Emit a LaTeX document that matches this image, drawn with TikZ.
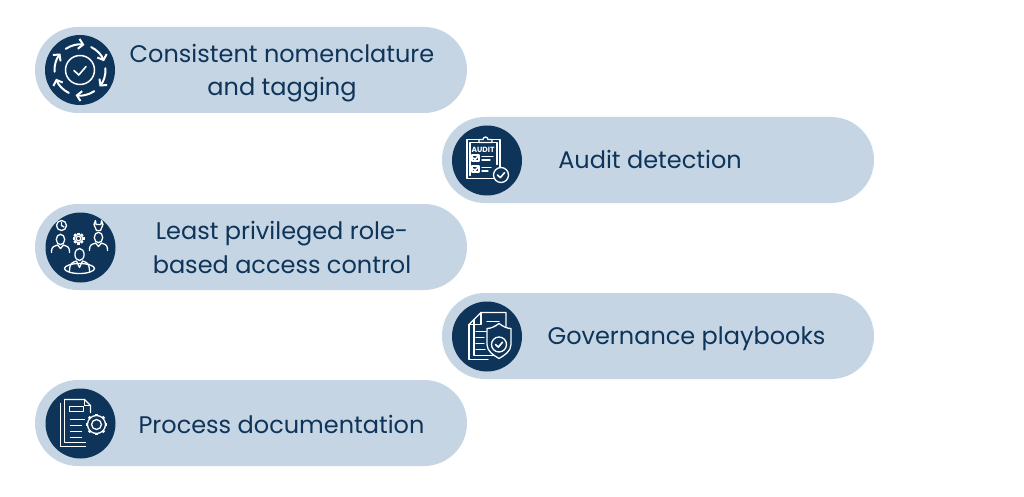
\documentclass[tikz,border=0pt]{standalone}
\usepackage{fontspec}
\setmainfont{Poppins}
\usetikzlibrary{arrows.meta,shapes.misc}
\definecolor{pillblue}{HTML}{C5D5E3}
\definecolor{navy}{HTML}{0E3459}
\tikzset{
    pill/.style={rounded rectangle,fill=pillblue,minimum width=432,minimum height=86,inner sep=0},
    badge/.style={circle,fill=navy,minimum size=70,inner sep=0},
    label/.style={text=navy,font=\fontsize{24}{33.5}\selectfont,align=center,inner sep=0},
    iconline/.style={draw=white,line width=1.3,line join=round,line cap=round},
    gearicon/.pic={
        \foreach \t in {0,45,...,315}
            \draw[white,line width=2.6] (\t:#1) -- (\t:#1+1.8);
        \draw[iconline,fill=navy] (0,0) circle (#1);
        \draw[iconline] (0,0) circle (#1*0.55);
    },
    checkmark/.pic={
        \draw[iconline,line width=1.6] (-#1,0) -- (-#1*0.2,-#1*0.75) -- (#1,#1*0.65);
    },
}
\begin{document}
\begin{tikzpicture}[x=1pt,y=1pt]
    \useasboundingbox (0,0) rectangle (1024,-497);
    \fill[white] (0,0) rectangle (1024,-497);
    % pills
    \node[pill] (nomenclature) at (251,-70) {};
    \node[pill] (audit) at (658,-160) {};
    \node[pill] (privilege) at (251,-247) {};
    \node[pill] (governance) at (658,-336) {};
    \node[pill] (process) at (251,-423) {};
    % labels
    \node[label] (nomenclaturetext) at (282,-73) {Consistent nomenclature\\and tagging};
    \node[label] (audittext) at (650,-159.5) {Audit detection};
    \node[label] (privilegetext) at (282,-247.5) {Least privileged role-\\based access control};
    \node[label] (governancetext) at (686.5,-338.5) {Governance playbooks};
    \node[label] (processtext) at (281.5,-424.5) {Process documentation};
    % badges
    \node[badge] (cyclebadge) at (80,-70) {};
    \node[badge] (auditbadge) at (487,-160.5) {};
    \node[badge] (teambadge) at (80.5,-247.5) {};
    \node[badge] (shieldbadge) at (487,-336.5) {};
    \node[badge] (gearbadge) at (80.5,-423.5) {};
    % cycle icon
    \begin{scope}[shift={(cyclebadge.center)}]
        \draw[iconline,line width=1.5] (0,0) circle (14.5);
        \pic at (0,-0.5) {checkmark=6};
        \foreach \a in {80,140,...,380}
            \draw[iconline,line width=2,-{Straight Barb[length=4.5,width=10]}] (\a+44:25.5) arc (\a+44:\a:25.5);
    \end{scope}
    % audit icon
    \begin{scope}[shift={(auditbadge.center)}]
        \draw[iconline] (-20,-18) rectangle (13,21);
        \draw[iconline] (-17,-15) -- (-17,18) -- (10,18) -- (10,-4);
        \draw[iconline,fill=navy] (-8,18) -- (-8,21) -- (-4,21) arc (180:0:2.5) -- (5,21) -- (5,18) -- cycle;
        \node[text=white,font=\fontsize{7.5}{7.5}\selectfont\bfseries,inner sep=0] (audittag) at (-4,11) {AUDIT};
        \draw[iconline] (-15,-0.5) rectangle (-8,5.5);
        \draw[iconline] (-15,-11.5) rectangle (-8,-5.5);
        \draw[iconline] (-5,4) -- (6,4) (-5,0.5) -- (3,0.5);
        \draw[iconline] (-5,-7) -- (4,-7) (-5,-10.5) -- (1,-10.5);
        \pic at (-11.5,2.5) {checkmark=2};
        \pic at (-11.5,-8.5) {checkmark=2};
        \draw[iconline,fill=navy] (14,-14.5) circle (7.5);
        \pic at (14,-14.5) {checkmark=3.5};
    \end{scope}
    % team icon
    \begin{scope}[shift={(teambadge.center)}]
        \draw[iconline] (-19,22) circle (5);
        \draw[iconline] (-19,25) -- (-19,22) -- (-16.5,20.5);
        \draw[iconline] (-20,8) ellipse (4.2 and 5.2);
        \draw[iconline] (-29,-5) .. controls (-29,2) and (-26,1) .. (-23,2.5) -- (-20,-1) -- (-17,2.5) .. controls (-14,1) and (-11,2) .. (-11,-5);
        \draw[iconline] (18,10) ellipse (4.2 and 5.2);
        \draw[iconline] (9,-3) .. controls (9,4) and (12,3) .. (15,4.5) -- (18,1) -- (21,4.5) .. controls (24,3) and (27,4) .. (27,-3);
        \draw[iconline] (15,27) -- (13.5,23) -- (16,17) -- (20,17) -- (22.5,23) -- (21,27) -- (20.5,23) -- (15.5,23) -- cycle;
        \pic at (-2,9) {gearicon=4.2};
        \draw[iconline] (-1,-7) ellipse (4.6 and 6);
        \draw[iconline] (-11,-24) .. controls (-11,-15) and (-8,-15) .. (-4,-13.5) -- (-1,-20) -- (2,-13.5) .. controls (6,-15) and (9,-15) .. (9,-24);
        \draw[iconline] (-1,-21) ellipse (15 and 5);
    \end{scope}
    % shield icon
    \begin{scope}[shift={(shieldbadge.center)}]
        \draw[iconline] (-13,17) -- (-13,-19) -- (14,-19);
        \draw[iconline] (-18,12) -- (-6,24) -- (19,24) -- (19,10);
        \draw[iconline] (-18,12) -- (-18,-23) -- (1,-23);
        \draw[iconline] (-18,12) -- (-6,12) -- (-6,24);
        \draw[iconline] (-11,5) -- (-1,5) (-11,-1) -- (-3,-1) (-11,-7) -- (-3,-7) (-11,-13) -- (-2,-13);
        \draw[iconline] (0,15) -- (12,15);
        \draw[iconline,fill=navy] (12,13) .. controls (16,10) and (20,8) .. (24,8) -- (24,-8) .. controls (24,-15) and (17,-19) .. (12,-22) .. controls (7,-19) and (0,-15) .. (0,-8) -- (0,8) .. controls (4,8) and (8,10) .. (12,13) -- cycle;
        \draw[iconline] (12,-8) circle (7.5);
        \pic at (12,-8) {checkmark=3.5};
    \end{scope}
    % document icon
    \begin{scope}[shift={(gearbadge.center)}]
        \draw[iconline] (-20,20) -- (-20,-23) -- (5,-23);
        \draw[iconline] (-16,24) -- (4,24) -- (10,18) -- (10,11);
        \draw[iconline] (-16,24) -- (-16,-19) -- (5,-19);
        \draw[iconline] (4,24) -- (4,18) -- (10,18);
        \draw[iconline] (-11,12) rectangle (3,17);
        \draw[iconline] (-10,4) -- (4,4) (-10,-2) -- (1,-2) (-10,-8) -- (1,-8) (-10,-14) -- (1,-14);
        \pic at (16,-1) {gearicon=9};
    \end{scope}
\end{tikzpicture}
\end{document}
